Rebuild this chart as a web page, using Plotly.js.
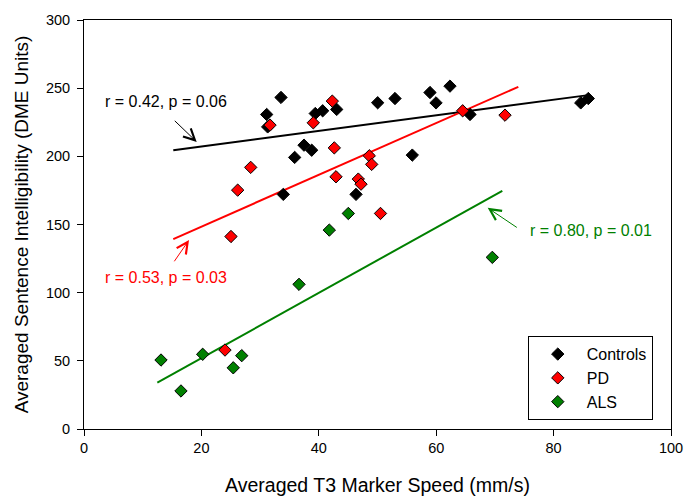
<!DOCTYPE html>
<html>
<head>
<meta charset="utf-8">
<script src="https://cdn.plot.ly/plotly-3.0.1.min.js"></script>
<style>html,body{margin:0;padding:0;background:#fff;}#chart{width:684px;height:496px;}</style>
</head>
<body>
<div id="chart"></div>
<script>
// Controls
const controlsX = [33.56, 31.12, 31.29, 39.40, 40.66, 43.05, 50.03, 37.48, 38.79, 35.89, 33.95, 46.34, 52.98, 58.94, 62.35, 59.97, 65.76, 55.93, 84.62, 85.91];
const controlsY = [243.2, 230.7, 221.6, 231.4, 233.4, 234.4, 239.3, 208.2, 204.5, 199.2, 172.1, 172.1, 242.4, 246.8, 251.5, 239.2, 230.7, 200.9, 239.2, 242.4];
// PD
const pdX = [42.30, 31.69, 39.06, 42.64, 28.40, 26.18, 42.93, 46.73, 47.19, 48.60, 49.01, 50.51, 25.04, 64.51, 71.72, 24.02];
const pdY = [240.5, 222.9, 224.6, 206.2, 191.9, 175.2, 185.0, 183.3, 179.6, 200.4, 194.1, 158.1, 141.2, 233.4, 230.2, 57.9];
// ALS
const alsX = [45.03, 41.79, 36.63, 13.12, 20.22, 26.87, 25.43, 16.52, 69.56];
const alsY = [158.1, 145.9, 106.1, 50.6, 54.8, 53.8, 44.9, 27.9, 125.9];
// Regression line endpoints
const controlsFitX = [15.21, 85.91];
const controlsFitY = [204.5, 244.9];
const pdFitX = [15.21, 73.99];
const pdFitY = [139.3, 251.0];
const alsFitX = [12.49, 71.26];
const alsFitY = [34.0, 174.7];
// Correlation labels
const statLabels = ["r = 0.42, p = 0.06", "r = 0.53, p = 0.03", "r = 0.80, p = 0.01"];
const xTicks = [0, 20, 40, 60, 80, 100];
const yTicks = [0, 50, 100, 150, 200, 250, 300];

const GREEN = "#008000";
const FONT = "Liberation Sans, Arial, sans-serif";

function fit(x, y, color) {
  return {x: x, y: y, type: "scatter", mode: "lines", line: {color: color, width: 2}, showlegend: false, hoverinfo: "skip"};
}
function pts(x, y, color, name) {
  return {x: x, y: y, type: "scatter", mode: "markers", name: name,
    marker: {symbol: "diamond", size: 9.5, color: color, line: {color: "#000", width: 1}}};
}

const data = [
  fit(controlsFitX, controlsFitY, "#000"),
  fit(pdFitX, pdFitY, "#ff0000"),
  fit(alsFitX, alsFitY, GREEN),
  pts(controlsX, controlsY, "#000", "Controls"),
  pts(pdX, pdY, "#ff0000", "PD"),
  pts(alsX, alsY, GREEN, "ALS")
];

function arrowAnn(hx, hy, tx, ty, color) {
  return {x: hx, y: hy, ax: tx, ay: ty, xref: "x", yref: "y", axref: "x", ayref: "y",
    showarrow: true, arrowhead: 5, arrowsize: 2.2, arrowwidth: 1, arrowcolor: color, text: ""};
}

const layout = {
  width: 684, height: 496,
  margin: {l: 84, r: 13, t: 20, b: 67},
  paper_bgcolor: "#fff", plot_bgcolor: "#fff",
  font: {family: FONT, size: 14, color: "#000"},
  xaxis: {
    range: [0, 100], tickvals: xTicks, ticktext: xTicks.map(String),
    showgrid: false, zeroline: false, showline: true, linecolor: "#000", linewidth: 1, mirror: true,
    ticks: "outside", ticklen: 6, tickcolor: "#000", tickfont: {size: 14.5},
    title: {text: "Averaged T3 Marker Speed (mm/s)", font: {size: 19.5}, standoff: 22}
  },
  yaxis: {
    range: [0, 300], tickvals: yTicks, ticktext: yTicks.map(String),
    showgrid: false, zeroline: false, showline: true, linecolor: "#000", linewidth: 1, mirror: true,
    ticks: "outside", ticklen: 6, tickcolor: "#000", tickfont: {size: 14.5}, ticklabelstandoff: 4,
    title: {text: "Averaged Sentence Intelligibility (DME Units)", font: {size: 19}, standoff: 12}
  },
  legend: {
    x: 0.756, y: 0.227, xanchor: "left", yanchor: "top",
    bordercolor: "#000", borderwidth: 1, bgcolor: "#fff",
    font: {size: 16}, tracegroupgap: 0, itemwidth: 48
  },
  annotations: [
    {x: 3.2, y: 240.5, xref: "x", yref: "y", xanchor: "left", yanchor: "middle", showarrow: false, text: statLabels[0], font: {size: 16, color: "#000"}},
    {x: 3.2, y: 111.4, xref: "x", yref: "y", xanchor: "left", yanchor: "middle", showarrow: false, text: statLabels[1], font: {size: 16, color: "#ff0000"}},
    {x: 75.6, y: 145.9, xref: "x", yref: "y", xanchor: "left", yanchor: "middle", showarrow: false, text: statLabels[2], font: {size: 16, color: GREEN}},
    arrowAnn(19.20, 210.6, 15.21, 227.1, "#000"),
    arrowAnn(17.89, 138.6, 15.21, 121.9, "#ff0000"),
    arrowAnn(68.77, 162.2, 73.99, 147.1, GREEN)
  ]
};

Plotly.newPlot("chart", data, layout, {displayModeBar: false, staticPlot: true});
</script>
</body>
</html>
